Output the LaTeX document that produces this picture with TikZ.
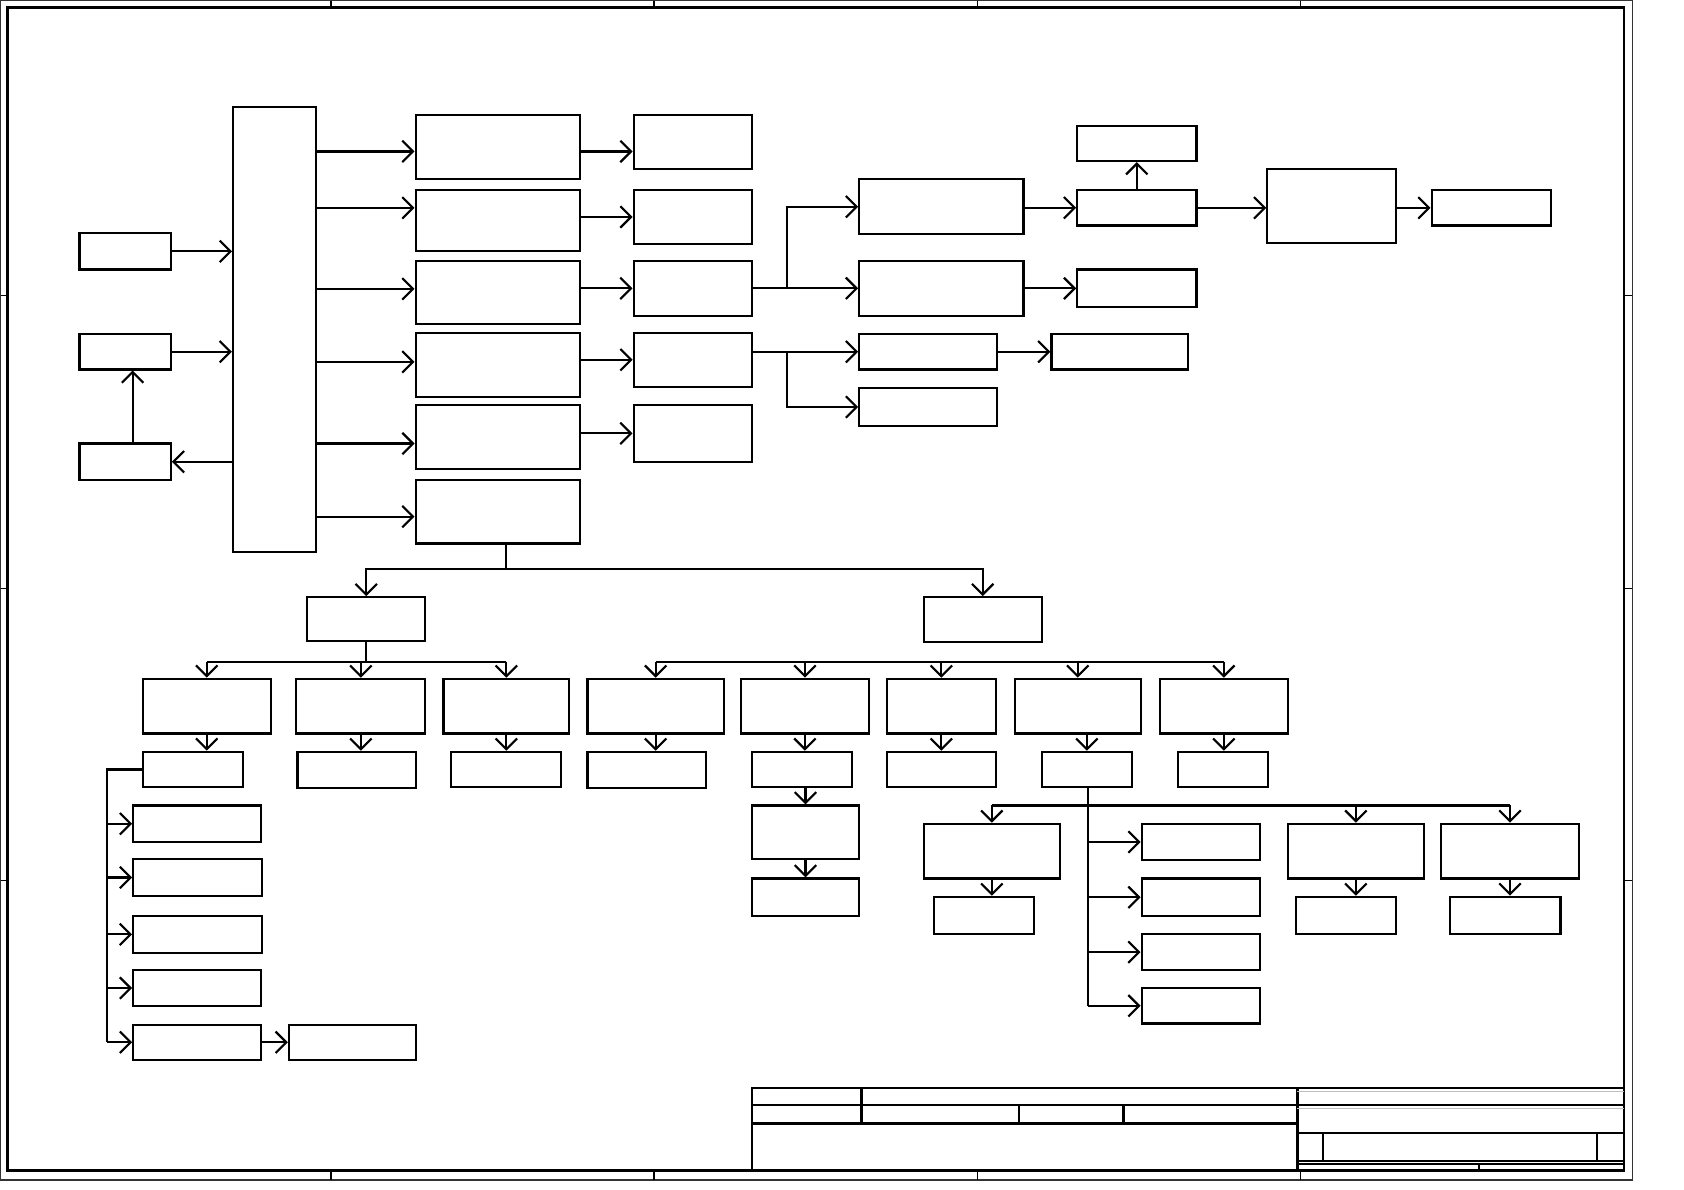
\documentclass[tikz,border=0pt]{standalone}
\usepackage{tikz}
\usetikzlibrary{arrows.meta,positioning,calc,fit}
\tikzset{every picture/.style={line width=1pt}}
\tikzset{
  blk/.style={draw, inner sep=0pt, line width=1pt},
  arr/.style={-{Straight Barb[length=5pt,width=10pt]}},
  frm/.style={line width=1.1pt},
}

\begin{document}
\begin{tikzpicture}[x=0.5pt,y=-0.5pt]
    \useasboundingbox (0,0) rectangle (1568,1108);

    % Drawing frame
    \draw[black!80,line width=0.8pt] (0.5,0.5) rectangle (1520,1099);
    \draw[frm] (7,7) rectangle (1512,1090);
    \foreach \x in {308,609,910,1211} {
        \draw[line width=0.7pt] (\x,0.5) -- (\x,7);
        \draw[line width=0.7pt] (\x,1090) -- (\x,1099);
    }
    \foreach \y in {275,548,820} {
        \draw[line width=0.7pt] (0.5,\y) -- (7,\y);
        \draw[line width=0.7pt] (1512,\y) -- (1520,\y);
    }

    % Title block
    \draw[frm] (700,1013) rectangle (1512,1090);
    \draw[frm] (700,1029) -- (1208,1029);
    \draw[frm] (700,1046) -- (1208,1046);
    \draw[frm] (802,1013) -- (802,1046);
    \draw[frm] (949,1029) -- (949,1046);
    \draw[frm] (1046,1029) -- (1046,1046);
    \draw[frm] (1208,1013) -- (1208,1090);
    \draw[frm] (1208,1029) -- (1512,1029);
    \draw[frm] (1208,1055) -- (1512,1055);
    \draw[frm] (1208,1081) -- (1512,1081);
    \draw[frm] (1208,1084) -- (1512,1084);
    \draw[frm] (1232,1055) -- (1232,1081);
    \draw[frm] (1487,1055) -- (1487,1081);
    \draw[frm] (1377,1084) -- (1377,1090);
    \draw[gray!50,line width=0.4pt] (1208,1016) -- (1512,1016);
    \draw[gray!50,line width=0.4pt] (1208,1032) -- (1512,1032);

    % Left inputs and main block
    \node[blk, fit={(74,217) (159,251)}] (L1) {};
    \node[blk, fit={(74,311) (159,344)}] (L2) {};
    \node[blk, fit={(74,413) (159,447)}] (L3) {};
    \node[blk, fit={(217,100) (294,514)}] (M) {};

    % Second column
    \node[blk, fit={(387,107) (540,167)}] (A1) {};
    \node[blk, fit={(387,177) (540,234)}] (A2) {};
    \node[blk, fit={(387,243) (540,302)}] (A3) {};
    \node[blk, fit={(387,310) (540,370)}] (A4) {};
    \node[blk, fit={(387,377) (540,437)}] (A5) {};
    \node[blk, fit={(387,447) (540,506)}] (A6) {};

    % Third column
    \node[blk, fit={(590,107) (700,157)}] (B1) {};
    \node[blk, fit={(590,177) (700,227)}] (B2) {};
    \node[blk, fit={(590,243) (700,294)}] (B3) {};
    \node[blk, fit={(590,310) (700,360)}] (B4) {};
    \node[blk, fit={(590,377) (700,430)}] (B5) {};

    % Upper right chain
    \node[blk, fit={(800,167) (953,218)}] (C1) {};
    \node[blk, fit={(800,243) (953,294)}] (C2) {};
    \node[blk, fit={(800,311) (928,344)}] (C3) {};
    \node[blk, fit={(800,361) (928,397)}] (C4) {};
    \node[blk, fit={(1003,117) (1114,150)}] (D0) {};
    \node[blk, fit={(1003,177) (1114,210)}] (D1) {};
    \node[blk, fit={(1003,251) (1114,286)}] (D2) {};
    \node[blk, fit={(979,311) (1106,344)}] (D3) {};
    \node[blk, fit={(1180,157) (1300,226)}] (E) {};
    \node[blk, fit={(1333,177) (1444,210)}] (F) {};

    % Lower left tree
    \node[blk, fit={(286,556) (396,597)}] (G1) {};
    \node[blk, fit={(133,632) (252,683)}] (H1) {};
    \node[blk, fit={(276,632) (396,683)}] (H2) {};
    \node[blk, fit={(413,632) (530,683)}] (H3) {};
    \node[blk, fit={(133,700) (226,733)}] (I1) {};
    \node[blk, fit={(277,700) (387,734)}] (I2) {};
    \node[blk, fit={(420,700) (522,733)}] (I3) {};
    \node[blk, fit={(124,750) (243,784)}] (J1) {};
    \node[blk, fit={(124,800) (244,834)}] (J2) {};
    \node[blk, fit={(124,853) (244,887)}] (J3) {};
    \node[blk, fit={(124,903) (243,937)}] (J4) {};
    \node[blk, fit={(124,954) (243,987)}] (J5) {};
    \node[blk, fit={(269,954) (387,987)}] (K) {};

    % Lower right tree
    \node[blk, fit={(860,556) (970,598)}] (G2) {};
    \node[blk, fit={(547,632) (674,683)}] (P1) {};
    \node[blk, fit={(690,632) (809,683)}] (P2) {};
    \node[blk, fit={(826,632) (927,683)}] (P3) {};
    \node[blk, fit={(945,632) (1062,683)}] (P4) {};
    \node[blk, fit={(1080,632) (1199,683)}] (P5) {};
    \node[blk, fit={(547,700) (657,734)}] (Q1) {};
    \node[blk, fit={(700,700) (793,733)}] (Q2) {};
    \node[blk, fit={(826,700) (927,733)}] (Q3) {};
    \node[blk, fit={(970,700) (1054,733)}] (Q4) {};
    \node[blk, fit={(1097,700) (1181,733)}] (Q5) {};
    \node[blk, fit={(700,750) (800,800)}] (R) {};
    \node[blk, fit={(700,818) (800,853)}] (S) {};
    \node[blk, fit={(860,767) (987,818)}] (T1) {};
    \node[blk, fit={(1199,767) (1326,818)}] (T3) {};
    \node[blk, fit={(1342,767) (1470,818)}] (T4) {};
    \node[blk, fit={(870,835) (963,870)}] (V1) {};
    \node[blk, fit={(1207,835) (1300,870)}] (V3) {};
    \node[blk, fit={(1350,835) (1453,870)}] (V4) {};
    \node[blk, fit={(1063,767) (1173,801)}] (U1) {};
    \node[blk, fit={(1063,818) (1173,853)}] (U2) {};
    \node[blk, fit={(1063,870) (1173,903)}] (U3) {};
    \node[blk, fit={(1063,920) (1173,953)}] (U4) {};

    % Junction points
    \coordinate (j1) at (733,269);
    \coordinate (j2) at (733,327);
    \coordinate (t0) at (471,530);
    \coordinate (t1) at (337,616);
    \coordinate (t2) at (100,970);
    \coordinate (t3) at (615,616);
    \coordinate (t4) at (1013,937);
    \coordinate (t5) at (1013,750);

    % Connectors, left part
    \draw[arr] (L1) -- (L1 -| M.west);
    \draw[arr] (L2) -- (L2 -| M.west);
    \draw[arr] (M.west |- L3) -- (L3);
    \draw[arr] ([xshift=3.5pt]L3.north) -- ([xshift=3.5pt]L2.south);
    \foreach \i/\dy in {1/-2,2/6,3/1.75,4/1.5,5/-3,6/-2.25} {
        \coordinate (a\i) at ([yshift=\dy pt]A\i.west);
        \draw[arr] (M.east |- a\i) -- (a\i);
    }
    \coordinate (b1) at ([yshift=-4.5pt]B1.west);
    \draw[arr] (A1.east |- b1) -- (b1);
    \foreach \i in {2,...,5}
        \draw[arr] (A\i.east |- B\i) -- (B\i);

    % Connectors, upper right
    \draw[arr] (B3) -- (C2);
    \draw[arr] (j1) |- (C1);
    \draw[arr] (B4.east |- C3) -- (C3);
    \draw[arr] (j2) |- (C4);
    \draw[arr] (C1.east |- D1) -- (D1);
    \draw[arr] (D1) -- (D0);
    \draw[arr] (D1) -- (D1 -| E.west);
    \draw[arr] (E.east |- F) -- (F);
    \draw[arr] (C2) -- (D2);
    \draw[arr] (C3) -- (D3);

    % Connectors, lower left
    \draw (A6.south -| t0) -- (t0);
    \draw[arr] (t0) -| (G1);
    \draw[arr] (t0) -| (G2);
    \draw (G1) -- (G1 |- t1);
    \draw (H1 |- t1) -- (H3 |- t1);
    \foreach \h in {H1,H2,H3}
        \draw[arr] (\h |- t1) -- (\h);
    \foreach \i in {1,2,3}
        \draw[arr] (H\i) -- (H\i |- I\i.north);
    \draw (I1.west) -| (t2);
    \foreach \j in {1,...,5}
        \draw[arr] (t2 |- J\j) -- (J\j);
    \draw[arr] (J5) -- (K);

    % Connectors, lower right
    \draw (P1 |- t3) -- (P5 |- t3);
    \foreach \p in {P1,P2,P3,P4,P5}
        \draw[arr] (\p |- t3) -- (\p);
    \foreach \i in {1,2,3,5}
        \draw[arr] (P\i) -- (P\i |- Q\i.north);
    \draw[arr] (P4.south -| Q4) -- (Q4);
    \draw[arr] (Q2.south -| R) -- (R);
    \draw[arr] (R) -- (S);
    \draw (Q4.south -| t4) -- (t4);
    \draw (T1 |- t5) -- (T4 |- t5);
    \foreach \t in {T1,T3,T4}
        \draw[arr] (\t |- t5) -- (\t);
    \foreach \i in {1,3,4}
        \draw[arr] (T\i) -- (T\i |- V\i.north);
    \foreach \u in {U1,U2,U3,U4}
        \draw[arr] (t4 |- \u) -- (\u);
\end{tikzpicture}
\end{document}
